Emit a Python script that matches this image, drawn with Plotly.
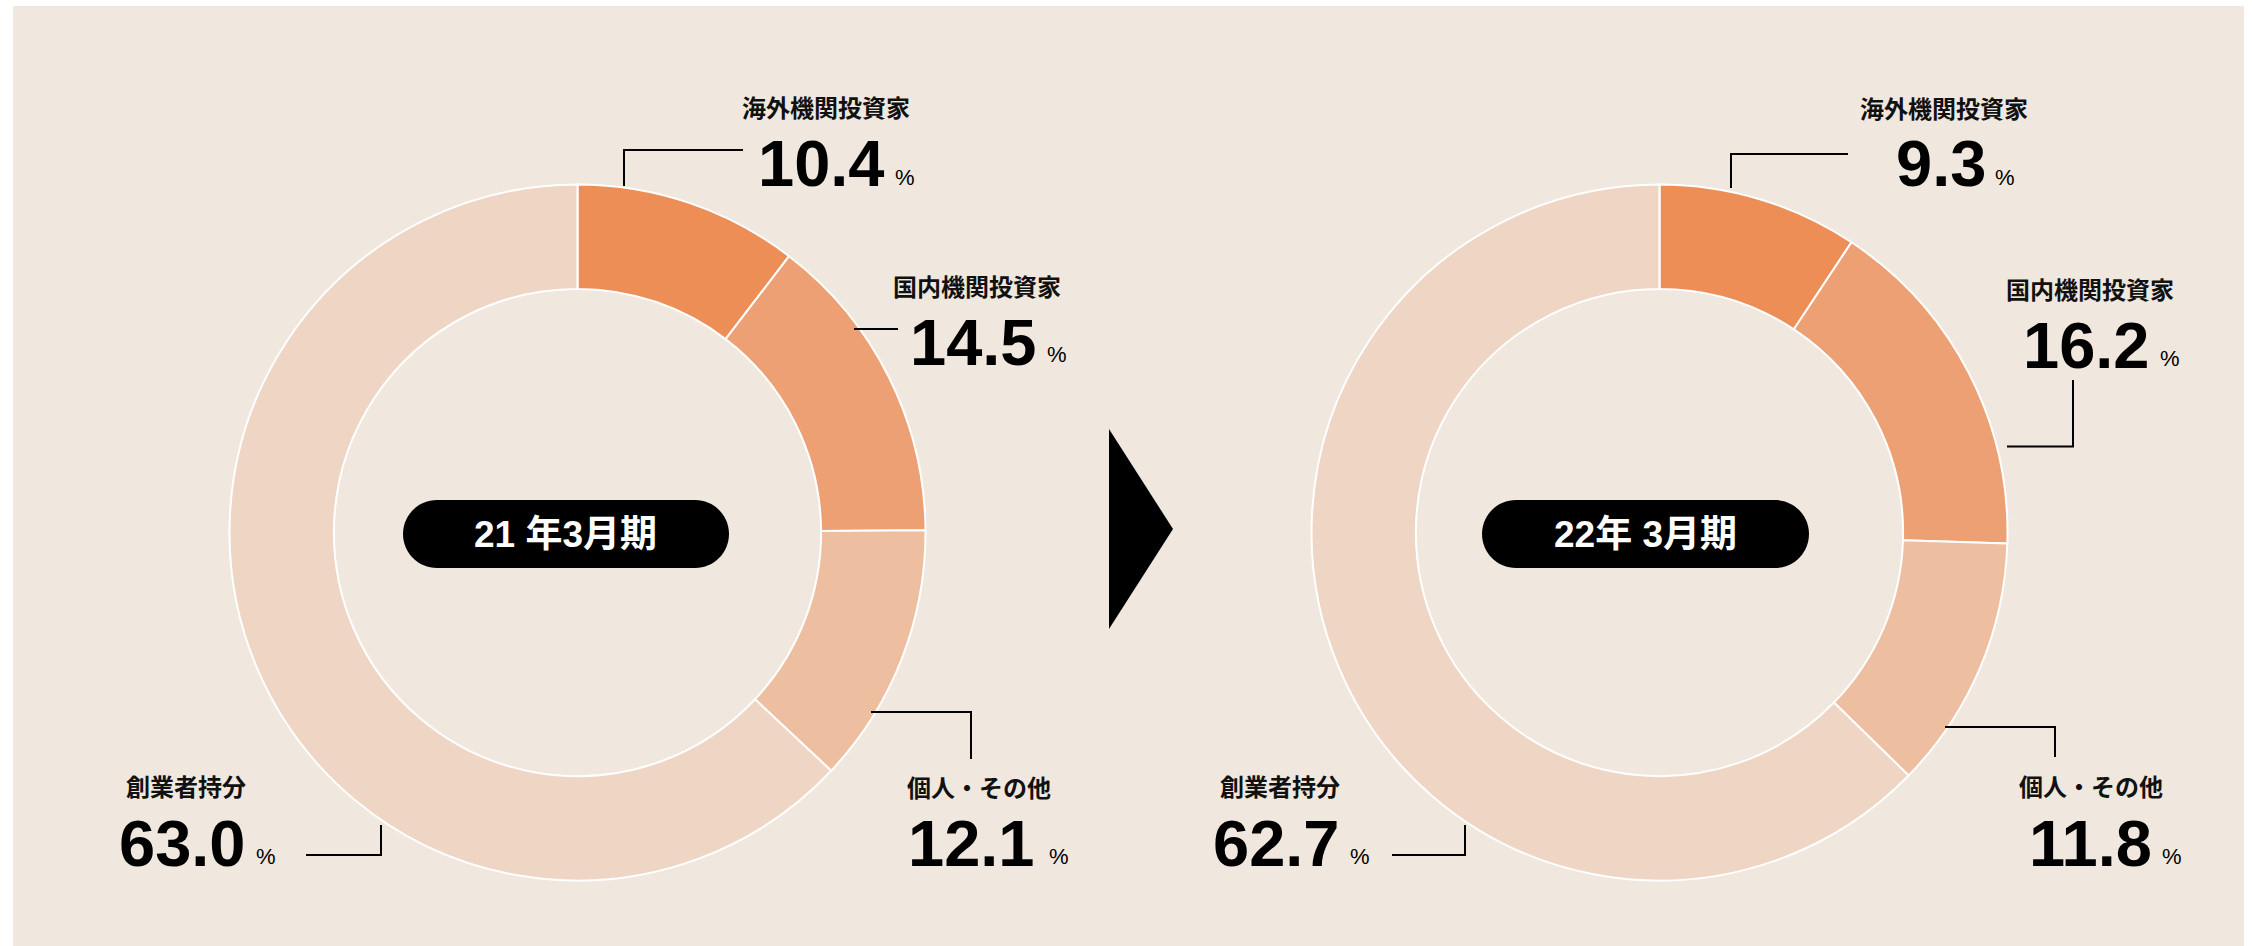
import plotly.graph_objects as go

W, H = 2252, 946

# ---- data ----
categories = ["海外機関投資家", "国内機関投資家", "個人・その他", "創業者持分"]
values_2021 = [10.4, 14.5, 12.1, 63.0]
values_2022 = [9.3, 16.2, 11.8, 62.7]
period_labels = ["21 年3月期", "22年 3月期"]
slice_colors = ["#EC8E55", "#EDA073", "#EDBEA0", "#EFD5C4"]

BG = "#F0E7DE"
JP = "Noto Sans CJK JP"
NUM = "Liberation Sans, Arial, sans-serif"


def px(x):
    return x / W


def py(y):
    return 1 - y / H


fig = go.Figure()

# donut geometry (pixels)
centers = [(577.5, 532.5), (1659.5, 532.5)]
R = 348

for (cx, cy), vals in zip(centers, [values_2021, values_2022]):
    fig.add_trace(go.Pie(
        labels=categories,
        values=vals,
        sort=False,
        direction="clockwise",
        rotation=0,
        hole=0.70,
        textinfo="none",
        textposition="none",
        hoverinfo="label+value",
        showlegend=False,
        marker=dict(colors=slice_colors, line=dict(color="white", width=2)),
        domain=dict(x=[px(cx - R), px(cx + R)], y=[py(cy + R), py(cy - R)]),
    ))

shapes = []
# beige panel
shapes.append(dict(type="rect", xref="paper", yref="paper", layer="below",
                   x0=px(13), x1=px(2244), y0=py(946), y1=py(6),
                   fillcolor=BG, line=dict(width=0)))

# arrow triangle
shapes.append(dict(type="path", xref="paper", yref="paper",
                   path=f"M{px(1109)},{py(429)} L{px(1173)},{py(529)} L{px(1109)},{py(629)} Z",
                   fillcolor="black", line=dict(width=0)))


def pill(x0, y0, x1, y1):
    r = (y1 - y0) / 2
    k = 0.5523 * r
    pts = [
        ("M", [(x0 + r, y0)]),
        ("L", [(x1 - r, y0)]),
        ("C", [(x1 - r + k, y0), (x1, y0 + r - k), (x1, y0 + r)]),
        ("C", [(x1, y0 + r + k), (x1 - r + k, y1), (x1 - r, y1)]),
        ("L", [(x0 + r, y1)]),
        ("C", [(x0 + r - k, y1), (x0, y0 + r + k), (x0, y0 + r)]),
        ("C", [(x0, y0 + r - k), (x0 + r - k, y0), (x0 + r, y0)]),
    ]
    s = ""
    for cmd, ps in pts:
        s += cmd + " " + " ".join(f"{px(a):.6f},{py(b):.6f}" for a, b in ps) + " "
    return s + "Z"


pills = [(403, 500, 729, 568), (1482, 500, 1809, 568)]
for p in pills:
    shapes.append(dict(type="path", xref="paper", yref="paper", path=pill(*p),
                       fillcolor="black", line=dict(width=0)))

leaders = [
    [(624, 186), (624, 150), (743, 150)],
    [(854, 329), (898, 329)],
    [(871, 712), (971, 712), (971, 759)],
    [(306, 855), (381, 855), (381, 825)],
    [(1731, 188), (1731, 154), (1848, 154)],
    [(2007, 446.5), (2073, 446.5), (2073, 380)],
    [(1945, 727), (2055, 727), (2055, 757)],
    [(1392, 855), (1465, 855), (1465, 825)],
]
for pts in leaders:
    path = "M" + " L".join(f"{px(a):.6f},{py(b):.6f}" for a, b in pts)
    shapes.append(dict(type="path", xref="paper", yref="paper", path=path,
                       line=dict(color="black", width=2)))

annotations = []
# period labels in pills
pill_text_pos = [(566, 534), (1645.5, 534)]
for (x, y), t in zip(pill_text_pos, period_labels):
    annotations.append(dict(x=px(x), y=py(y), xref="paper", yref="paper", text=f"<b>{t}</b>",
                            showarrow=False, xanchor="center", yanchor="middle",
                            font=dict(family="Liberation Sans, " + JP, size=37, color="white")))

# category labels (center x, center y)
label_pos = [
    [(826, 106), (977, 285), (979, 786), (186, 785)],
    [(1944, 107), (2089.5, 288), (2091, 785), (1280, 785)],
]
# numbers: (right edge of number, digit center y, left edge of %)
num_pos = [
    [(885, 164, 895), (1037, 342, 1047), (1035, 843, 1049), (246, 843, 256)],
    [(1986, 164, 1995), (2150, 345, 2160), (2152, 843, 2162), (1340, 843, 1350)],
]
for vals, lpos, npos in zip([values_2021, values_2022], label_pos, num_pos):
    for cat, v, (lx, ly), (nr, ny, pl) in zip(categories, vals, lpos, npos):
        annotations.append(dict(x=px(lx), y=py(ly), xref="paper", yref="paper",
                                text=f"<b>{cat}</b>", showarrow=False,
                                xanchor="center", yanchor="middle",
                                font=dict(family=JP, size=24, color="#111111")))
        annotations.append(dict(x=px(nr + 2), y=py(ny), xref="paper", yref="paper",
                                text=f"<b>{v:.1f}</b>", showarrow=False,
                                xanchor="right", yanchor="middle",
                                font=dict(family=NUM, size=65, color="black")))
        annotations.append(dict(x=px(pl - 2), y=py(ny + 13), xref="paper", yref="paper",
                                text="%", showarrow=False,
                                xanchor="left", yanchor="middle",
                                font=dict(family=NUM, size=22, color="black")))

fig.update_layout(
    width=W, height=H,
    margin=dict(l=0, r=0, t=0, b=0),
    paper_bgcolor="white",
    plot_bgcolor="white",
    shapes=shapes,
    annotations=annotations,
    showlegend=False,
)

fig.write_html("out.html", config={"displayModeBar": False},
               post_script="document.body.style.margin='0';document.body.style.overflow='hidden';")
